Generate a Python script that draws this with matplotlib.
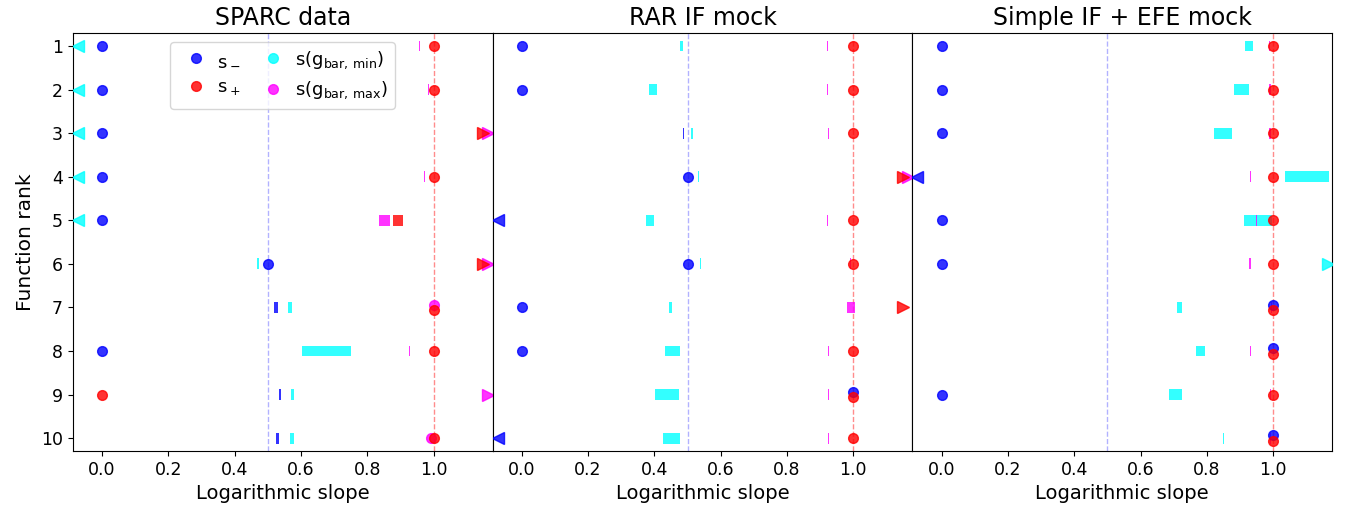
import numpy as np
import matplotlib.pyplot as plt
from matplotlib.lines import Line2D

LO, HI = -np.inf, np.inf  # off-scale to the left / right

TITLES = ["SPARC data", "RAR IF mock", "Simple IF + EFE mock"]
RANKS = list(range(1, 11))

# entries: float = point, (lo, hi) = range, LO / HI = off the axis
SPARC_SMINUS = [0.0, 0.0, 0.0, 0.0, 0.0, 0.5, (0.520, 0.532), 0.0,
                (0.533, 0.541), (0.526, 0.535)]
SPARC_SPLUS = [1.0, 1.0, HI, 1.0, (0.879, 0.909), HI, 1.0, 1.0, 0.0, 1.0]
SPARC_GMIN = [LO, LO, LO, LO, LO, (0.469, 0.473), (0.562, 0.574),
              (0.604, 0.750), (0.571, 0.578), (0.568, 0.580)]
SPARC_GMAX = [(0.956, 0.958), (0.984, 0.987), HI, (0.972, 0.974),
              (0.837, 0.870), HI, 1.0, (0.926, 0.929), HI, 0.993]

RAR_SMINUS = [0.0, 0.0, (0.485, 0.490), 0.5, LO, 0.5, 0.0, 0.0, 1.0, LO]
RAR_SPLUS = [1.0, 1.0, 1.0, HI, 1.0, 1.0, HI, 1.0, 1.0, 1.0]
RAR_GMIN = [(0.477, 0.486), (0.385, 0.407), (0.511, 0.515), (0.532, 0.536),
            (0.375, 0.400), (0.537, 0.541), (0.444, 0.453), (0.431, 0.476),
            (0.403, 0.474), (0.425, 0.477)]
RAR_GMAX = [(0.920, 0.923), (0.922, 0.925), (0.923, 0.926), HI,
            (0.920, 0.923), (0.990, 0.993), (0.980, 1.004), (0.923, 0.926),
            (0.923, 0.926), (0.923, 0.926)]

EFE_SMINUS = [0.0, 0.0, 0.0, LO, 0.0, 0.0, 1.0, 1.0, 0.0, 1.0]
EFE_SPLUS = [1.0, 1.0, 1.0, 1.0, 1.0, 1.0, 1.0, 1.0, 1.0, 1.0]
EFE_GMIN = [(0.915, 0.939), (0.883, 0.928), (0.821, 0.875), (1.035, 1.168),
            (0.912, 0.996), HI, (0.711, 0.726), (0.767, 0.794),
            (0.686, 0.724), (0.848, 0.852)]
EFE_GMAX = [(0.987, 0.991), (0.988, 0.992), (0.988, 0.992), (0.929, 0.932),
            (0.947, 0.951), (0.928, 0.932), (0.993, 0.997), (0.929, 0.932),
            (0.990, 0.994), (0.990, 0.994)]

PANELS = [
    (SPARC_SMINUS, SPARC_SPLUS, SPARC_GMIN, SPARC_GMAX),
    (RAR_SMINUS, RAR_SPLUS, RAR_GMIN, RAR_GMAX),
    (EFE_SMINUS, EFE_SPLUS, EFE_GMIN, EFE_GMAX),
]

XLIM = (-0.088, 1.178)
LEFT_EDGE = -0.073
RIGHT_EDGE = {"b": 1.15, "r": 1.15, "cyan": 1.165, "magenta": 1.165}
ALPHA = 0.8


def is_point(v):
    return not isinstance(v, tuple) and np.isfinite(v)


def point_offsets(series):
    # coinciding points in one row get pushed apart vertically
    offs = [np.zeros(len(RANKS)) for _ in series]
    for i in range(len(RANKS)):
        for a in range(len(series)):
            for b in range(a + 1, len(series)):
                va, vb = series[a][i], series[b][i]
                if is_point(va) and is_point(vb) and va == vb:
                    offs[a][i] = -0.06
                    offs[b][i] = 0.06
    return offs


def draw_panel(ax, title, sminus, splus, gmin, gmax):
    ax.axvline(0.5, color="b", ls="--", lw=1, alpha=0.3, zorder=1)
    ax.axvline(1.0, color="r", ls="--", lw=1, alpha=0.45, zorder=1)

    series = [(gmin, "cyan"), (gmax, "magenta"), (sminus, "b"), (splus, "r")]
    offs = point_offsets([s for s, _ in series])

    for (vals, color), off in zip(series, offs):
        for i, (rank, v) in enumerate(zip(RANKS, vals)):
            if isinstance(v, tuple):
                ax.barh(rank, v[1] - v[0], left=v[0], height=0.25,
                        color=color, alpha=ALPHA, linewidth=0, zorder=2)
            elif v == LO:
                ax.plot(LEFT_EDGE, rank, "<", color=color, ms=8,
                        alpha=ALPHA, zorder=3)
            elif v == HI:
                ax.plot(RIGHT_EDGE[color], rank, ">", color=color, ms=8,
                        alpha=ALPHA, zorder=3)
            else:
                ax.plot(v, rank + off[i], "o", color=color, ms=7,
                        alpha=ALPHA, zorder=3)

    ax.set_title(title, fontsize=17)
    ax.set_xlim(*XLIM)
    ax.set_xticks([0.0, 0.2, 0.4, 0.6, 0.8, 1.0])
    ax.set_xlabel("Logarithmic slope", fontsize=14)
    ax.tick_params(labelsize=12.5)


def main():
    fig, axes = plt.subplots(1, 3, sharey=True, figsize=(13.47, 5.15), dpi=100)
    fig.subplots_adjust(left=0.054, right=0.989, bottom=0.124, top=0.936,
                        wspace=0)

    for ax, title, data in zip(axes, TITLES, PANELS):
        draw_panel(ax, title, *data)

    axes[0].set_ylim(10.3, 0.7)
    axes[0].set_yticks(RANKS)
    axes[0].set_ylabel("Function rank", fontsize=14.5)
    for ax in axes[1:]:
        ax.tick_params(left=False)

    handles = [
        Line2D([], [], ls="", marker="o", color="b", alpha=ALPHA, ms=7),
        Line2D([], [], ls="", marker="o", color="r", alpha=ALPHA, ms=7),
        Line2D([], [], ls="", marker="o", color="cyan", alpha=ALPHA, ms=7),
        Line2D([], [], ls="", marker="o", color="magenta", alpha=ALPHA, ms=7),
    ]
    labels = [r"s$_-$", r"s$_+$", r"s(g$_{\mathrm{bar,\,min}}$)",
              r"s(g$_{\mathrm{bar,\,max}}$)"]
    axes[0].legend(handles, labels, ncol=2, loc="upper center", fontsize=13,
                   handletextpad=0.2, columnspacing=0.8)

    fig.savefig("out.png", dpi=100)


if __name__ == "__main__":
    main()
